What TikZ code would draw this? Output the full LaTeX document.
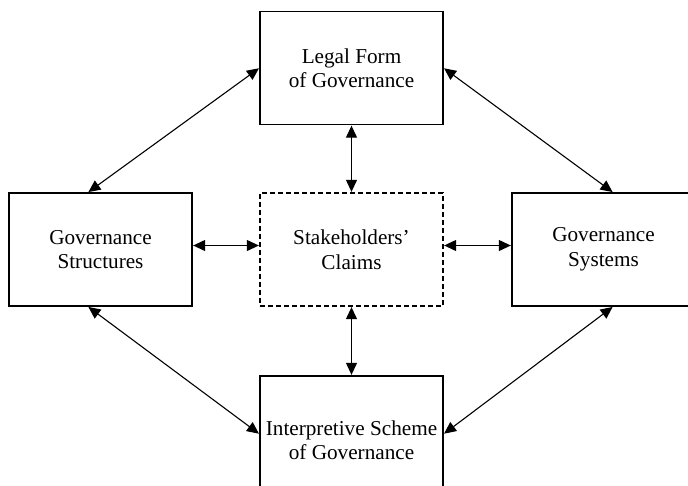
\documentclass[tikz,border=0pt]{standalone}
\usepackage{fontspec}
\setmainfont{Liberation Serif}
\usetikzlibrary{arrows.meta}
\begin{document}
\begin{tikzpicture}[x=1pt,y=-1pt,
  box/.style={draw, line width=1.3pt, minimum width=183pt, minimum height=113pt,
    inner sep=0pt, align=center, font=\fontsize{21.2}{24.5}\selectfont},
  claimbox/.style={box, dash pattern=on 5pt off 3pt},
  link/.style={line width=1.1pt, {Triangle[length=12pt,width=11pt]}-{Triangle[length=12pt,width=11pt]}, shorten <=0.5pt, shorten >=0.5pt}]
  \clip (0,0) rectangle (688,485);
  % the five boxes
  \node[box] (legal) at (351.5,68) {Legal Form\\of Governance};
  \node[box] (struct) at (100.5,249.5) {Governance\\Structures};
  \node[claimbox] (claims) at (351.5,249.5) {Stakeholders’\\Claims};
  \node[box] (systems) at (603.5,249.5) {Governance\\Systems};
  \node[box, minimum height=128pt] (scheme) at (351.5,440) {Interpretive Scheme\\of Governance};
  % links to and from the claims box
  \draw[link] (legal.south) -- (claims.north);
  \draw[link] (claims.south) -- (scheme.north);
  \draw[link] ([yshift=4pt]struct.east) -- ([yshift=4pt]claims.west);
  \draw[link] ([yshift=4pt]claims.east) -- ([yshift=4pt]systems.west);
  % links around the outside
  \draw[link] ([xshift=-12.5pt]struct.north) -- (legal.west);
  \draw[link] (legal.east) -- ([xshift=9.5pt]systems.north);
  \draw[link] ([xshift=-12.5pt]struct.south) -- ([yshift=6pt]scheme.west);
  \draw[link] ([xshift=9.5pt]systems.south) -- ([yshift=6pt]scheme.east);
\end{tikzpicture}
\end{document}
